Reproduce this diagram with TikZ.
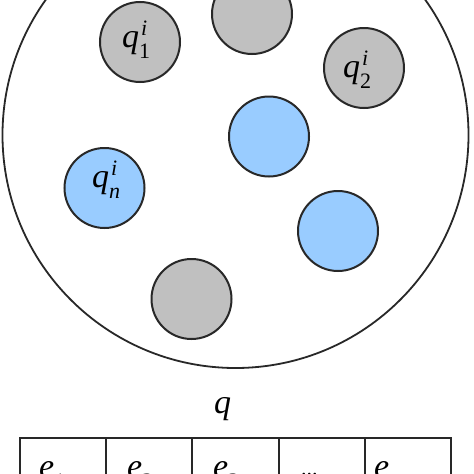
\documentclass[tikz,border=0pt]{standalone}
\usepackage{fontspec}
\setmainfont{Liberation Serif}
\definecolor{ballgray}{RGB}{192,192,192}
\definecolor{ballblue}{RGB}{153,204,255}
\definecolor{edge}{RGB}{40,40,40}
\newcommand{\bigsz}{\fontsize{34}{36}\selectfont}
\newcommand{\smallsz}{\fontsize{22}{24}\selectfont}
\newcommand{\symlab}[3]{{\bigsz\textit{#1}}\makebox[0pt][l]{\hspace{2pt}\raisebox{12pt}{\smallsz\textit{#2}}}\raisebox{-11pt}{\smallsz #3}}
\newcommand{\elab}[1]{{\bigsz\textit{e}}\raisebox{-11pt}{\smallsz #1}}
\begin{document}
\begin{tikzpicture}[x=1pt,y=-1pt,
  ball/.style={circle, draw=edge, line width=2pt, minimum size=80pt, inner sep=0pt},
  grayball/.style={ball, fill=ballgray},
  blueball/.style={ball, fill=ballblue},
  lab/.style={anchor=base west, inner sep=0pt, outer sep=0pt},
  cell/.style={draw=edge, line width=2pt, minimum width=86.2pt, minimum height=70pt, anchor=north west, inner sep=0pt}]
\useasboundingbox (0,0) rectangle (474,474);
\clip (0,0) rectangle (474,474);
\fill[white] (0,0) rectangle (474,474);
% pool
\node[circle, draw=edge, line width=1.8pt, minimum size=466pt, inner sep=0pt] (pool) at (235.5,135) {};
% balls
\node[grayball] (g1) at (140,42) {};
\node[grayball] (gtop) at (252,14) {};
\node[grayball] (g2) at (364,68) {};
\node[blueball] (b1) at (269,136.5) {};
\node[blueball] (b2) at (338,231) {};
\node[blueball] (bn) at (104.5,188) {};
\node[grayball] (gbot) at (191.5,299) {};
% ball labels
\node[lab] (l1) at (122,47) {\symlab{q}{i}{1}};
\node[lab] (l2) at (343,77) {\symlab{q}{i}{2}};
\node[lab] (ln) at (92,187) {\symlab{q}{i}{\textit{n}}};
% sequence
\node[lab] (qlab) at (214,413) {\bigsz\textit{q}};
\node[cell] (c1) at (19,437) {};
\node[cell] (c2) at (105.2,437) {};
\node[cell] (c3) at (191.4,437) {};
\node[cell] (c4) at (277.6,437) {};
\node[cell] (c5) at (363.8,437) {};
\node[lab] (e1) at (39,477) {\elab{1}};
\node[lab] (e2) at (127,477) {\elab{2}};
\node[lab] (e3) at (213,477) {\elab{3}};
\node[lab] (edots) at (301,475) {\smallsz ...};
\node[lab] (en) at (374,477) {\elab{\textit{n}}};
\end{tikzpicture}
\end{document}
